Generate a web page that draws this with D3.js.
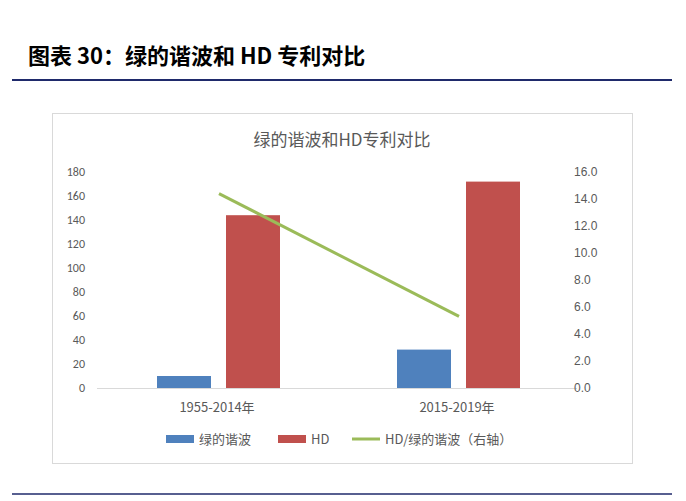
<!DOCTYPE html>
<html><head><meta charset="utf-8">
<script src="https://cdn.jsdelivr.net/npm/d3@7"></script>
<style>body{margin:0;background:#fff;font-family:"Noto Sans CJK SC",sans-serif}</style>
</head><body><div id="container"></div>
<script>
/* DATA */
const categories = ["1955-2014年", "2015-2019年"];
const greenHarmonic = [10, 32];
const hd = [144, 172];
const ratio = [14.4, 5.3];
const leftTicks = [0, 20, 40, 60, 80, 100, 120, 140, 160, 180];
const rightTicks = [0, 2, 4, 6, 8, 10, 12, 14, 16];

const width = 686, height = 501;
const svg = d3.select("#container").append("svg").attr("width", width).attr("height", height);

// page heading
svg.append("text").attr("x", 28).attr("y", 64).attr("font-size", 22).attr("font-weight", "bold")
  .attr("fill", "#000").text("图表 30：绿的谐波和 HD 专利对比");
svg.append("line").attr("x1", 12).attr("x2", 672).attr("y1", 80).attr("y2", 80).attr("stroke", "#1f2a6b").attr("stroke-width", 2);
svg.append("line").attr("x1", 12).attr("x2", 672).attr("y1", 494).attr("y2", 494).attr("stroke", "#1f2a6b").attr("stroke-width", 1.5);

// chart box
svg.append("rect").attr("x", 52.5).attr("y", 113.5).attr("width", 580).attr("height", 350)
  .attr("fill", "#fff").attr("stroke", "#d9d9d9");
svg.append("text").attr("x", 342).attr("y", 146).attr("text-anchor", "middle").attr("font-size", 17)
  .attr("fill", "#595959").text("绿的谐波和HD专利对比");

const x = d3.scaleBand().domain(categories).range([97, 577]);
const yL = d3.scaleLinear().domain([0, 180]).range([388, 172]);
const yR = d3.scaleLinear().domain([0, 16]).range([388, 172]);

svg.append("line").attr("x1", 97).attr("x2", 577).attr("y1", 388.5).attr("y2", 388.5).attr("stroke", "#d9d9d9");

svg.selectAll("text.lt").data(leftTicks).join("text").attr("class", "lt")
  .attr("x", 85).attr("y", d => yL(d) + 4).attr("text-anchor", "end")
  .attr("font-size", 12).attr("fill", "#595959").attr("font-family", "Calibri, Carlito, Liberation Sans, sans-serif").text(d => d);
svg.selectAll("text.rt").data(rightTicks).join("text").attr("class", "rt")
  .attr("x", 574).attr("y", d => yR(d) + 4)
  .attr("font-size", 12).attr("fill", "#595959").attr("font-family", "Liberation Sans, sans-serif").text(d => d3.format(".1f")(d));

svg.selectAll("text.cat").data(categories).join("text").attr("class", "cat")
  .attr("x", d => x(d) + x.bandwidth() / 2).attr("y", 412).attr("text-anchor", "middle")
  .attr("font-size", 13).attr("fill", "#595959").text(d => d);

const bw = 54;
svg.selectAll("rect.g").data(greenHarmonic).join("rect").attr("class", "g")
  .attr("x", (d, i) => x(categories[i]) + x.bandwidth() / 2 - 60).attr("width", bw)
  .attr("y", d => yL(d)).attr("height", d => yL(0) - yL(d)).attr("fill", "#4f81bd");
svg.selectAll("rect.h").data(hd).join("rect").attr("class", "h")
  .attr("x", (d, i) => x(categories[i]) + x.bandwidth() / 2 + 9).attr("width", bw)
  .attr("y", d => yL(d)).attr("height", d => yL(0) - yL(d)).attr("fill", "#c0504d");

const line = d3.line().x((d, i) => x(categories[i]) + x.bandwidth() / 2 + 2).y(d => yR(d));
svg.append("path").datum(ratio).attr("d", line).attr("fill", "none").attr("stroke", "#9bbb59").attr("stroke-width", 3);

// legend
const lg = svg.append("g").attr("font-size", 13).attr("fill", "#595959");
lg.append("rect").attr("x", 166).attr("y", 435).attr("width", 28).attr("height", 8).attr("fill", "#4f81bd");
lg.append("text").attr("x", 199).attr("y", 444).text("绿的谐波");
lg.append("rect").attr("x", 278).attr("y", 435).attr("width", 28).attr("height", 8).attr("fill", "#c0504d");
lg.append("text").attr("x", 311).attr("y", 444).text("HD");
lg.append("line").attr("x1", 352).attr("x2", 380).attr("y1", 439).attr("y2", 439).attr("stroke", "#9bbb59").attr("stroke-width", 3);
lg.append("text").attr("x", 385).attr("y", 444).text("HD/绿的谐波（右轴）");
</script></body></html>
